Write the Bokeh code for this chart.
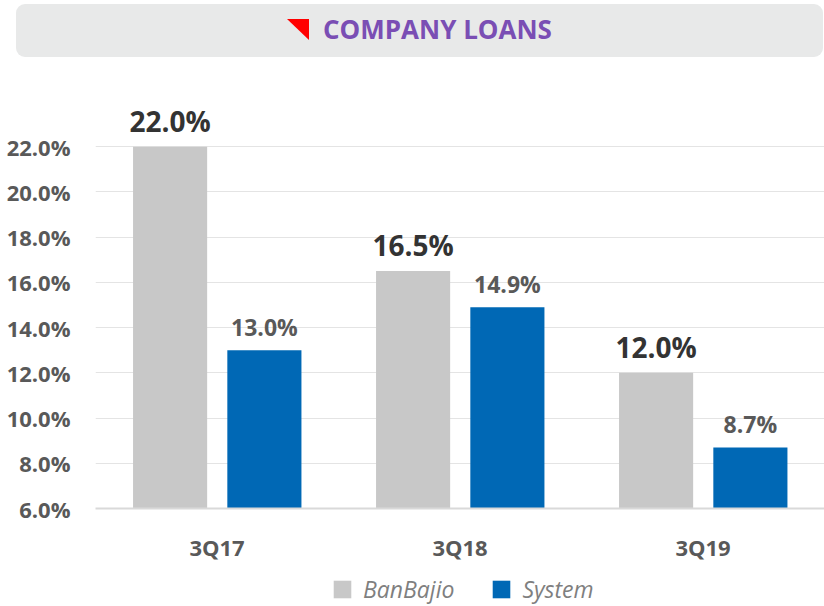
from bokeh.plotting import figure
from bokeh.models import (Range1d, FactorRange, FixedTicker, PrintfTickFormatter,
                          Legend, LegendItem, ColumnDataSource, Div)
from bokeh.layouts import column
from bokeh.transform import dodge
from bokeh.core.properties import value
from bokeh.embed import file_html
from bokeh.resources import INLINE

# ---- data ----
categories = ["3Q17", "3Q18", "3Q19"]
banbajio = [22.0, 16.5, 12.0]
system = [13.0, 14.9, 8.7]
series_names = ["BanBajio", "System"]
y_ticks = [6, 8, 10, 12, 14, 16, 18, 20, 22]
title_text = "COMPANY LOANS"

FONT = "Open Sans"
GRAY = "#C8C8C8"
BLUE = "#0068B5"

# ---- title strip (HTML) ----
title_html = (
    '<div style="position:relative;margin:4px 0 0 16px;width:807px;height:53px;'
    'background:#E8E9E9;border-radius:9px;">'
    '<div style="position:absolute;left:271px;top:15px;width:0;height:0;'
    'border-top:21px solid #FF0000;border-left:22px solid transparent;"></div>'
    '<div style="position:absolute;left:307px;top:7px;font-family:\'Open Sans\';'
    'font-weight:bold;font-size:26px;line-height:36px;color:#7A4EB4;white-space:nowrap;">'
    + title_text + '</div></div>'
)
title = Div(text=title_html, width=824, height=60, margin=0)

src = ColumnDataSource(dict(cat=categories, bb=banbajio, sy=system,
                            bbl=[f"{v:.1f}%" for v in banbajio],
                            syl=[f"{v:.1f}%" for v in system]))

# ---- main chart ----
p = figure(width=824, height=504, output_backend="svg", toolbar_location=None,
           x_range=FactorRange(*categories, range_padding=0),
           y_range=Range1d(6, 24.4),
           min_border_left=95, min_border_right=0, min_border_top=32,
           min_border_bottom=51, outline_line_color=None, margin=0)

p.vbar(x=dodge("cat", -0.193, range=p.x_range), top="bb", bottom=6,
       width=0.305, source=src, fill_color=GRAY, line_color=None)
p.vbar(x=dodge("cat", 0.195, range=p.x_range), top="sy", bottom=6,
       width=0.305, source=src, fill_color=BLUE, line_color=None)

p.text(x=dodge("cat", -0.193, range=p.x_range), y="bb", text="bbl", source=src,
       text_font=value(FONT), text_font_style="bold", text_font_size="28px",
       text_color="#333333", text_align="center", text_baseline="alphabetic",
       y_offset=-26)
p.text(x=dodge("cat", 0.195, range=p.x_range), y="sy", text="syl", source=src,
       text_font=value(FONT), text_font_style="bold", text_font_size="23px",
       text_color="#595959", text_align="center", text_baseline="alphabetic",
       y_offset=-23)

p.yaxis.ticker = FixedTicker(ticks=y_ticks)
p.yaxis.formatter = PrintfTickFormatter(format="%.1f%%")
p.yaxis.axis_line_color = None
p.yaxis.major_tick_line_color = None
p.yaxis.minor_tick_line_color = None
p.yaxis.major_label_standoff = 19
p.yaxis.major_label_text_font = FONT
p.yaxis.major_label_text_font_style = "bold"
p.yaxis.major_label_text_font_size = "22px"
p.yaxis.major_label_text_color = "#595959"

p.xaxis.axis_line_color = "#D9D9D9"
p.xaxis.axis_line_width = 2
p.xaxis.major_tick_line_color = None
p.xaxis.minor_tick_line_color = None
p.xaxis.major_label_standoff = 17
p.xaxis.major_label_text_font = FONT
p.xaxis.major_label_text_font_style = "bold"
p.xaxis.major_label_text_font_size = "22px"
p.xaxis.major_label_text_color = "#595959"

p.xgrid.visible = False
p.ygrid.ticker = FixedTicker(ticks=y_ticks)
p.ygrid.grid_line_color = "#E4E4E4"
p.ygrid.grid_line_width = 1

# ---- legend strip ----
lg = figure(width=824, height=42, output_backend="svg", toolbar_location=None,
            x_range=FactorRange(*categories, range_padding=0),
            y_range=Range1d(1000, 1001),
            min_border_left=95, min_border_right=0, min_border_top=0,
            min_border_bottom=0, outline_line_color=None, margin=0)
lg.axis.visible = False
lg.grid.visible = False
l1 = lg.vbar(x=dodge("cat", -0.193, range=lg.x_range), top="bb", bottom=6,
             width=0.305, source=src, fill_color=GRAY, line_color=None)
l2 = lg.vbar(x=dodge("cat", 0.195, range=lg.x_range), top="sy", bottom=6,
             width=0.305, source=src, fill_color=BLUE, line_color=None)
legend = Legend(items=[LegendItem(label=series_names[0], renderers=[l1]),
                       LegendItem(label=series_names[1], renderers=[l2])],
                orientation="horizontal", location=(236, 1),
                label_text_font=FONT, label_text_font_style="italic",
                label_text_font_size="23px", label_text_color="#7F7F7F",
                glyph_width=22, glyph_height=22, label_standoff=10,
                spacing=36, border_line_color=None, background_fill_alpha=0,
                margin=0, padding=0)
lg.add_layout(legend, "center")

layout = column(title, p, lg, spacing=0)
open("out.html", "w").write(file_html(layout, INLINE))
